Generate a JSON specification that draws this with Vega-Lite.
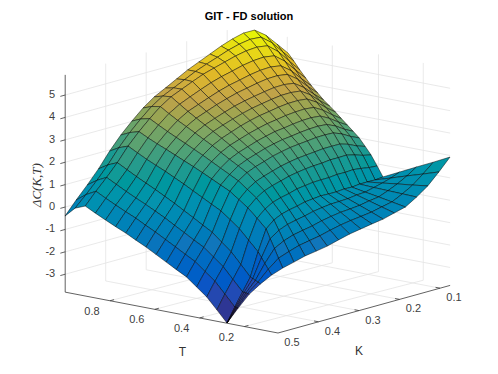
{"$schema":"https://vega.github.io/schema/vega-lite/v6.json","width":498,"height":344,"autosize":"none","padding":{"left":0,"right":0,"top":30,"bottom":0},"background":"white","config":{"view":{"stroke":null}},"title":{"text":"GIT - FD solution","anchor":"middle","fontSize":11,"font":"Liberation Sans","fontWeight":"bold","color":"#000000","offset":7},
"datasets":{"frame":[
{"T":1,"K":0.5,"C":-3,"T2":1,"K2":0.075,"C2":-3,"g":"g"},{"T":1,"K":0.5,"C":-2,"T2":1,"K2":0.075,"C2":-2,"g":"g"},{"T":1,"K":0.5,"C":-1,"T2":1,"K2":0.075,"C2":-1,"g":"g"},{"T":1,"K":0.5,"C":0,"T2":1,"K2":0.075,"C2":0,"g":"g"},{"T":1,"K":0.5,"C":1,"T2":1,"K2":0.075,"C2":1,"g":"g"},{"T":1,"K":0.5,"C":2,"T2":1,"K2":0.075,"C2":2,"g":"g"},{"T":1,"K":0.5,"C":3,"T2":1,"K2":0.075,"C2":3,"g":"g"},{"T":1,"K":0.5,"C":4,"T2":1,"K2":0.075,"C2":4,"g":"g"},{"T":1,"K":0.5,"C":5,"T2":1,"K2":0.075,"C2":5,"g":"g"},
{"T":1,"K":0.4,"C":-3.8,"T2":1,"K2":0.4,"C2":5.9,"g":"g"},{"T":1,"K":0.3,"C":-3.8,"T2":1,"K2":0.3,"C2":5.9,"g":"g"},{"T":1,"K":0.2,"C":-3.8,"T2":1,"K2":0.2,"C2":5.9,"g":"g"},{"T":1,"K":0.1,"C":-3.8,"T2":1,"K2":0.1,"C2":5.9,"g":"g"},
{"T":1,"K":0.075,"C":-3,"T2":0.05,"K2":0.075,"C2":-3,"g":"g"},{"T":1,"K":0.075,"C":-2,"T2":0.05,"K2":0.075,"C2":-2,"g":"g"},{"T":1,"K":0.075,"C":-1,"T2":0.05,"K2":0.075,"C2":-1,"g":"g"},{"T":1,"K":0.075,"C":0,"T2":0.05,"K2":0.075,"C2":0,"g":"g"},{"T":1,"K":0.075,"C":1,"T2":0.05,"K2":0.075,"C2":1,"g":"g"},{"T":1,"K":0.075,"C":2,"T2":0.05,"K2":0.075,"C2":2,"g":"g"},{"T":1,"K":0.075,"C":3,"T2":0.05,"K2":0.075,"C2":3,"g":"g"},{"T":1,"K":0.075,"C":4,"T2":0.05,"K2":0.075,"C2":4,"g":"g"},{"T":1,"K":0.075,"C":5,"T2":0.05,"K2":0.075,"C2":5,"g":"g"},
{"T":0.777,"K":0.075,"C":-3.8,"T2":0.777,"K2":0.075,"C2":5.9,"g":"g"},{"T":0.576,"K":0.075,"C":-3.8,"T2":0.576,"K2":0.075,"C2":5.9,"g":"g"},{"T":0.37,"K":0.075,"C":-3.8,"T2":0.37,"K2":0.075,"C2":5.9,"g":"g"},{"T":0.17,"K":0.075,"C":-3.8,"T2":0.17,"K2":0.075,"C2":5.9,"g":"g"},
{"T":0.8,"K":0.5,"C":-3.8,"T2":0.777,"K2":0.075,"C2":-3.8,"g":"g"},{"T":0.6,"K":0.5,"C":-3.8,"T2":0.576,"K2":0.075,"C2":-3.8,"g":"g"},{"T":0.4,"K":0.5,"C":-3.8,"T2":0.37,"K2":0.075,"C2":-3.8,"g":"g"},{"T":0.2,"K":0.5,"C":-3.8,"T2":0.17,"K2":0.075,"C2":-3.8,"g":"g"},
{"T":1,"K":0.4,"C":-3.8,"T2":0.05,"K2":0.4,"C2":-3.8,"g":"g"},{"T":1,"K":0.3,"C":-3.8,"T2":0.05,"K2":0.3,"C2":-3.8,"g":"g"},{"T":1,"K":0.2,"C":-3.8,"T2":0.05,"K2":0.2,"C2":-3.8,"g":"g"},{"T":1,"K":0.1,"C":-3.8,"T2":0.05,"K2":0.1,"C2":-3.8,"g":"g"},
{"T":1,"K":0.5,"C":-3.8,"T2":1,"K2":0.5,"C2":5.9,"g":"a"},{"T":1,"K":0.5,"C":-3.8,"T2":0.05,"K2":0.5,"C2":-3.8,"g":"a"},{"T":0.05,"K":0.5,"C":-3.8,"T2":0.05,"K2":0.075,"C2":-3.8,"g":"a"},
{"T":1,"K":0.5,"C":-3,"T2":1,"K2":0.512,"C2":-3,"g":"a"},{"T":1,"K":0.5,"C":-2,"T2":1,"K2":0.512,"C2":-2,"g":"a"},{"T":1,"K":0.5,"C":-1,"T2":1,"K2":0.512,"C2":-1,"g":"a"},{"T":1,"K":0.5,"C":0,"T2":1,"K2":0.512,"C2":0,"g":"a"},{"T":1,"K":0.5,"C":1,"T2":1,"K2":0.512,"C2":1,"g":"a"},{"T":1,"K":0.5,"C":2,"T2":1,"K2":0.512,"C2":2,"g":"a"},{"T":1,"K":0.5,"C":3,"T2":1,"K2":0.512,"C2":3,"g":"a"},{"T":1,"K":0.5,"C":4,"T2":1,"K2":0.512,"C2":4,"g":"a"},{"T":1,"K":0.5,"C":5,"T2":1,"K2":0.512,"C2":5,"g":"a"},
{"T":0.8,"K":0.5,"C":-3.8,"T2":0.8,"K2":0.49,"C2":-3.8,"g":"a"},{"T":0.6,"K":0.5,"C":-3.8,"T2":0.6,"K2":0.49,"C2":-3.8,"g":"a"},{"T":0.4,"K":0.5,"C":-3.8,"T2":0.4,"K2":0.49,"C2":-3.8,"g":"a"},{"T":0.2,"K":0.5,"C":-3.8,"T2":0.2,"K2":0.49,"C2":-3.8,"g":"a"},
{"T":0.05,"K":0.4,"C":-3.8,"T2":0.07,"K2":0.4,"C2":-3.8,"g":"a"},{"T":0.05,"K":0.3,"C":-3.8,"T2":0.07,"K2":0.3,"C2":-3.8,"g":"a"},{"T":0.05,"K":0.2,"C":-3.8,"T2":0.07,"K2":0.2,"C2":-3.8,"g":"a"},{"T":0.05,"K":0.1,"C":-3.8,"T2":0.07,"K2":0.1,"C2":-3.8,"g":"a"}],
"labels":[
{"s":"0.8","T":0.8,"K":0.5,"C":-3.8,"g":"T"},{"s":"0.6","T":0.6,"K":0.5,"C":-3.8,"g":"T"},{"s":"0.4","T":0.4,"K":0.5,"C":-3.8,"g":"T"},{"s":"0.2","T":0.2,"K":0.5,"C":-3.8,"g":"T"},
{"s":"0.5","T":0.05,"K":0.5,"C":-3.8,"g":"K"},{"s":"0.4","T":0.05,"K":0.4,"C":-3.8,"g":"K"},{"s":"0.3","T":0.05,"K":0.3,"C":-3.8,"g":"K"},{"s":"0.2","T":0.05,"K":0.2,"C":-3.8,"g":"K"},{"s":"0.1","T":0.05,"K":0.1,"C":-3.8,"g":"K"},
{"s":"-3","T":1,"K":0.5,"C":-3,"g":"z"},{"s":"-2","T":1,"K":0.5,"C":-2,"g":"z"},{"s":"-1","T":1,"K":0.5,"C":-1,"g":"z"},{"s":"0","T":1,"K":0.5,"C":0,"g":"z"},{"s":"1","T":1,"K":0.5,"C":1,"g":"z"},{"s":"2","T":1,"K":0.5,"C":2,"g":"z"},{"s":"3","T":1,"K":0.5,"C":3,"g":"z"},{"s":"4","T":1,"K":0.5,"C":4,"g":"z"},{"s":"5","T":1,"K":0.5,"C":5,"g":"z"},
{"s":"T","T":0.45,"K":0.5,"C":-3.8,"g":"tT"},{"s":"K","T":0.05,"K":0.3,"C":-3.8,"g":"tK"},{"s":"ΔC(K,T)","T":1,"K":0.569,"C":1.32,"g":"tz"}],
"grid":[
{"id":20,"T":1,"K":0.08,"C":4.77},{"id":19,"T":1,"K":0.101,"C":5.28},{"id":18,"T":1,"K":0.122,"C":5.78},{"id":17,"T":1,"K":0.143,"C":6.11},{"id":16,"T":1,"K":0.164,"C":6.08},{"id":15,"T":1,"K":0.185,"C":5.92},{"id":14,"T":1,"K":0.206,"C":5.71},{"id":13,"T":1,"K":0.227,"C":5.46},{"id":12,"T":1,"K":0.248,"C":5.21},{"id":11,"T":1,"K":0.269,"C":4.96},{"id":10,"T":1,"K":0.29,"C":4.66},{"id":9,"T":1,"K":0.311,"C":4.36},{"id":8,"T":1,"K":0.332,"C":4.07},{"id":7,"T":1,"K":0.353,"C":3.68},{"id":6,"T":1,"K":0.374,"C":3.2},{"id":5,"T":1,"K":0.395,"C":2.68},{"id":4,"T":1,"K":0.416,"C":2.07},{"id":3,"T":1,"K":0.437,"C":1.38},{"id":2,"T":1,"K":0.458,"C":0.77},{"id":1,"T":1,"K":0.479,"C":0.2},{"id":0,"T":1,"K":0.5,"C":-0.41},
{"id":120,"T":0.974,"K":0.08,"C":4.46},{"id":119,"T":0.973,"K":0.101,"C":4.97},{"id":118,"T":0.972,"K":0.122,"C":5.49},{"id":117,"T":0.971,"K":0.143,"C":5.85},{"id":116,"T":0.97,"K":0.164,"C":5.86},{"id":115,"T":0.969,"K":0.185,"C":5.75},{"id":114,"T":0.968,"K":0.206,"C":5.59},{"id":113,"T":0.967,"K":0.227,"C":5.38},{"id":112,"T":0.966,"K":0.248,"C":5.18},{"id":111,"T":0.965,"K":0.269,"C":4.96},{"id":110,"T":0.964,"K":0.29,"C":4.7},{"id":109,"T":0.963,"K":0.311,"C":4.44},{"id":108,"T":0.962,"K":0.332,"C":4.18},{"id":107,"T":0.962,"K":0.353,"C":3.82},{"id":106,"T":0.961,"K":0.374,"C":3.37},{"id":105,"T":0.96,"K":0.395,"C":2.87},{"id":104,"T":0.959,"K":0.416,"C":2.3},{"id":103,"T":0.958,"K":0.437,"C":1.64},{"id":102,"T":0.957,"K":0.458,"C":1.06},{"id":101,"T":0.956,"K":0.479,"C":0.53},{"id":100,"T":0.955,"K":0.5,"C":0.03},
{"id":220,"T":0.947,"K":0.08,"C":4.11},{"id":219,"T":0.945,"K":0.101,"C":4.62},{"id":218,"T":0.944,"K":0.122,"C":5.15},{"id":217,"T":0.942,"K":0.143,"C":5.52},{"id":216,"T":0.94,"K":0.164,"C":5.57},{"id":215,"T":0.938,"K":0.185,"C":5.51},{"id":214,"T":0.936,"K":0.206,"C":5.39},{"id":213,"T":0.934,"K":0.227,"C":5.23},{"id":212,"T":0.932,"K":0.248,"C":5.07},{"id":211,"T":0.931,"K":0.269,"C":4.9},{"id":210,"T":0.929,"K":0.29,"C":4.68},{"id":209,"T":0.927,"K":0.311,"C":4.45},{"id":208,"T":0.925,"K":0.332,"C":4.22},{"id":207,"T":0.923,"K":0.353,"C":3.89},{"id":206,"T":0.921,"K":0.374,"C":3.46},{"id":205,"T":0.919,"K":0.395,"C":2.99},{"id":204,"T":0.918,"K":0.416,"C":2.45},{"id":203,"T":0.916,"K":0.437,"C":1.82},{"id":202,"T":0.914,"K":0.458,"C":1.27},{"id":201,"T":0.912,"K":0.479,"C":0.76},{"id":200,"T":0.91,"K":0.5,"C":0.21},
{"id":320,"T":0.921,"K":0.08,"C":3.8},{"id":319,"T":0.918,"K":0.101,"C":4.28},{"id":318,"T":0.915,"K":0.122,"C":4.78},{"id":317,"T":0.912,"K":0.143,"C":5.13},{"id":316,"T":0.91,"K":0.164,"C":5.18},{"id":315,"T":0.907,"K":0.185,"C":5.13},{"id":314,"T":0.904,"K":0.206,"C":5.03},{"id":313,"T":0.901,"K":0.227,"C":4.89},{"id":312,"T":0.899,"K":0.248,"C":4.75},{"id":311,"T":0.896,"K":0.269,"C":4.59},{"id":310,"T":0.893,"K":0.29,"C":4.39},{"id":309,"T":0.89,"K":0.311,"C":4.18},{"id":308,"T":0.887,"K":0.332,"C":3.96},{"id":307,"T":0.885,"K":0.353,"C":3.65},{"id":306,"T":0.882,"K":0.374,"C":3.25},{"id":305,"T":0.879,"K":0.395,"C":2.79},{"id":304,"T":0.876,"K":0.416,"C":2.23},{"id":303,"T":0.873,"K":0.437,"C":1.59},{"id":302,"T":0.871,"K":0.458,"C":1.04},{"id":301,"T":0.868,"K":0.479,"C":0.53},{"id":300,"T":0.865,"K":0.5,"C":-0.02},
{"id":420,"T":0.895,"K":0.08,"C":3.5},{"id":419,"T":0.891,"K":0.101,"C":3.94},{"id":418,"T":0.887,"K":0.122,"C":4.41},{"id":417,"T":0.883,"K":0.143,"C":4.74},{"id":416,"T":0.879,"K":0.164,"C":4.8},{"id":415,"T":0.876,"K":0.185,"C":4.76},{"id":414,"T":0.872,"K":0.206,"C":4.67},{"id":413,"T":0.868,"K":0.227,"C":4.55},{"id":412,"T":0.865,"K":0.248,"C":4.43},{"id":411,"T":0.861,"K":0.269,"C":4.28},{"id":410,"T":0.857,"K":0.29,"C":4.1},{"id":409,"T":0.853,"K":0.311,"C":3.91},{"id":408,"T":0.85,"K":0.332,"C":3.71},{"id":407,"T":0.846,"K":0.353,"C":3.42},{"id":406,"T":0.842,"K":0.374,"C":3.04},{"id":405,"T":0.838,"K":0.395,"C":2.6},{"id":404,"T":0.835,"K":0.416,"C":2.02},{"id":403,"T":0.831,"K":0.437,"C":1.36},{"id":402,"T":0.827,"K":0.458,"C":0.81},{"id":401,"T":0.824,"K":0.479,"C":0.31},{"id":400,"T":0.82,"K":0.5,"C":-0.24},
{"id":520,"T":0.868,"K":0.08,"C":3.24},{"id":519,"T":0.863,"K":0.101,"C":3.65},{"id":518,"T":0.859,"K":0.122,"C":4.09},{"id":517,"T":0.854,"K":0.143,"C":4.41},{"id":516,"T":0.849,"K":0.164,"C":4.47},{"id":515,"T":0.845,"K":0.185,"C":4.44},{"id":514,"T":0.84,"K":0.206,"C":4.36},{"id":513,"T":0.836,"K":0.227,"C":4.25},{"id":512,"T":0.831,"K":0.248,"C":4.15},{"id":511,"T":0.826,"K":0.269,"C":4.01},{"id":510,"T":0.822,"K":0.29,"C":3.85},{"id":509,"T":0.817,"K":0.311,"C":3.67},{"id":508,"T":0.813,"K":0.332,"C":3.48},{"id":507,"T":0.808,"K":0.353,"C":3.22},{"id":506,"T":0.803,"K":0.374,"C":2.85},{"id":505,"T":0.798,"K":0.395,"C":2.43},{"id":504,"T":0.794,"K":0.416,"C":1.83},{"id":503,"T":0.789,"K":0.437,"C":1.15},{"id":502,"T":0.784,"K":0.458,"C":0.6},{"id":501,"T":0.78,"K":0.479,"C":0.1},{"id":500,"T":0.775,"K":0.5,"C":-0.45},
{"id":620,"T":0.842,"K":0.08,"C":2.98},{"id":619,"T":0.836,"K":0.101,"C":3.36},{"id":618,"T":0.831,"K":0.122,"C":3.77},{"id":617,"T":0.825,"K":0.143,"C":4.07},{"id":616,"T":0.819,"K":0.164,"C":4.13},{"id":615,"T":0.814,"K":0.185,"C":4.11},{"id":614,"T":0.808,"K":0.206,"C":4.04},{"id":613,"T":0.803,"K":0.227,"C":3.95},{"id":612,"T":0.797,"K":0.248,"C":3.86},{"id":611,"T":0.792,"K":0.269,"C":3.74},{"id":610,"T":0.786,"K":0.29,"C":3.59},{"id":609,"T":0.78,"K":0.311,"C":3.43},{"id":608,"T":0.775,"K":0.332,"C":3.25},{"id":607,"T":0.769,"K":0.353,"C":3.01},{"id":606,"T":0.763,"K":0.374,"C":2.66},{"id":605,"T":0.758,"K":0.395,"C":2.25},{"id":604,"T":0.752,"K":0.416,"C":1.64},{"id":603,"T":0.747,"K":0.437,"C":0.94},{"id":602,"T":0.741,"K":0.458,"C":0.4},{"id":601,"T":0.735,"K":0.479,"C":-0.1},{"id":600,"T":0.73,"K":0.5,"C":-0.65},
{"id":720,"T":0.815,"K":0.08,"C":2.76},{"id":719,"T":0.809,"K":0.101,"C":3.11},{"id":718,"T":0.803,"K":0.122,"C":3.5},{"id":717,"T":0.796,"K":0.143,"C":3.78},{"id":716,"T":0.789,"K":0.164,"C":3.83},{"id":715,"T":0.783,"K":0.185,"C":3.82},{"id":714,"T":0.776,"K":0.206,"C":3.76},{"id":713,"T":0.77,"K":0.227,"C":3.68},{"id":712,"T":0.763,"K":0.248,"C":3.6},{"id":711,"T":0.756,"K":0.269,"C":3.49},{"id":710,"T":0.75,"K":0.29,"C":3.35},{"id":709,"T":0.744,"K":0.311,"C":3.2},{"id":708,"T":0.738,"K":0.332,"C":3.03},{"id":707,"T":0.731,"K":0.353,"C":2.8},{"id":706,"T":0.724,"K":0.374,"C":2.47},{"id":705,"T":0.718,"K":0.395,"C":2.07},{"id":704,"T":0.712,"K":0.416,"C":1.44},{"id":703,"T":0.705,"K":0.437,"C":0.72},{"id":702,"T":0.698,"K":0.458,"C":0.18},{"id":701,"T":0.692,"K":0.479,"C":-0.33},{"id":700,"T":0.685,"K":0.5,"C":-0.88},
{"id":820,"T":0.789,"K":0.08,"C":2.54},{"id":819,"T":0.782,"K":0.101,"C":2.86},{"id":818,"T":0.774,"K":0.122,"C":3.22},{"id":817,"T":0.767,"K":0.143,"C":3.48},{"id":816,"T":0.759,"K":0.164,"C":3.53},{"id":815,"T":0.752,"K":0.185,"C":3.52},{"id":814,"T":0.745,"K":0.206,"C":3.47},{"id":813,"T":0.737,"K":0.227,"C":3.4},{"id":812,"T":0.73,"K":0.248,"C":3.33},{"id":811,"T":0.723,"K":0.269,"C":3.23},{"id":810,"T":0.715,"K":0.29,"C":3.11},{"id":809,"T":0.707,"K":0.311,"C":2.96},{"id":808,"T":0.7,"K":0.332,"C":2.8},{"id":807,"T":0.692,"K":0.353,"C":2.59},{"id":806,"T":0.685,"K":0.374,"C":2.28},{"id":805,"T":0.677,"K":0.395,"C":1.89},{"id":804,"T":0.67,"K":0.416,"C":1.23},{"id":803,"T":0.662,"K":0.437,"C":0.49},{"id":802,"T":0.655,"K":0.458,"C":-0.04},{"id":801,"T":0.648,"K":0.479,"C":-0.55},{"id":800,"T":0.64,"K":0.5,"C":-1.1},
{"id":920,"T":0.763,"K":0.08,"C":2.3},{"id":919,"T":0.754,"K":0.101,"C":2.59},{"id":918,"T":0.746,"K":0.122,"C":2.92},{"id":917,"T":0.737,"K":0.143,"C":3.16},{"id":916,"T":0.729,"K":0.164,"C":3.21},{"id":915,"T":0.72,"K":0.185,"C":3.2},{"id":914,"T":0.713,"K":0.206,"C":3.16},{"id":913,"T":0.704,"K":0.227,"C":3.1},{"id":912,"T":0.696,"K":0.248,"C":3.04},{"id":911,"T":0.687,"K":0.269,"C":2.95},{"id":910,"T":0.679,"K":0.29,"C":2.84},{"id":909,"T":0.671,"K":0.311,"C":2.7},{"id":908,"T":0.663,"K":0.332,"C":2.56},{"id":907,"T":0.654,"K":0.353,"C":2.36},{"id":906,"T":0.646,"K":0.374,"C":2.07},{"id":905,"T":0.637,"K":0.395,"C":1.7},{"id":904,"T":0.629,"K":0.416,"C":1.01},{"id":903,"T":0.62,"K":0.437,"C":0.25},{"id":902,"T":0.612,"K":0.458,"C":-0.29},{"id":901,"T":0.603,"K":0.479,"C":-0.8},{"id":900,"T":0.595,"K":0.5,"C":-1.35},
{"id":1020,"T":0.736,"K":0.08,"C":2.06},{"id":1019,"T":0.727,"K":0.101,"C":2.32},{"id":1018,"T":0.718,"K":0.122,"C":2.61},{"id":1017,"T":0.708,"K":0.143,"C":2.83},{"id":1016,"T":0.699,"K":0.164,"C":2.88},{"id":1015,"T":0.689,"K":0.185,"C":2.88},{"id":1014,"T":0.681,"K":0.206,"C":2.84},{"id":1013,"T":0.671,"K":0.227,"C":2.79},{"id":1012,"T":0.662,"K":0.248,"C":2.75},{"id":1011,"T":0.652,"K":0.269,"C":2.67},{"id":1010,"T":0.643,"K":0.29,"C":2.57},{"id":1009,"T":0.634,"K":0.311,"C":2.44},{"id":1008,"T":0.625,"K":0.332,"C":2.31},{"id":1007,"T":0.616,"K":0.353,"C":2.13},{"id":1006,"T":0.606,"K":0.374,"C":1.86},{"id":1005,"T":0.596,"K":0.395,"C":1.5},{"id":1004,"T":0.588,"K":0.416,"C":0.79},{"id":1003,"T":0.578,"K":0.437,"C":0.01},{"id":1002,"T":0.569,"K":0.458,"C":-0.53},{"id":1001,"T":0.559,"K":0.479,"C":-1.04},{"id":1000,"T":0.55,"K":0.5,"C":-1.6},
{"id":1120,"T":0.71,"K":0.08,"C":1.83},{"id":1119,"T":0.7,"K":0.101,"C":2.05},{"id":1118,"T":0.69,"K":0.122,"C":2.32},{"id":1117,"T":0.679,"K":0.143,"C":2.51},{"id":1116,"T":0.669,"K":0.164,"C":2.56},{"id":1115,"T":0.658,"K":0.185,"C":2.56},{"id":1114,"T":0.649,"K":0.206,"C":2.53},{"id":1113,"T":0.638,"K":0.227,"C":2.49},{"id":1112,"T":0.628,"K":0.248,"C":2.46},{"id":1111,"T":0.618,"K":0.269,"C":2.39},{"id":1110,"T":0.607,"K":0.29,"C":2.31},{"id":1109,"T":0.597,"K":0.311,"C":2.19},{"id":1108,"T":0.587,"K":0.332,"C":2.07},{"id":1107,"T":0.577,"K":0.353,"C":1.91},{"id":1106,"T":0.566,"K":0.374,"C":1.65},{"id":1105,"T":0.556,"K":0.395,"C":1.3},{"id":1104,"T":0.547,"K":0.416,"C":0.57},{"id":1103,"T":0.536,"K":0.437,"C":-0.24},{"id":1102,"T":0.526,"K":0.458,"C":-0.78},{"id":1101,"T":0.515,"K":0.479,"C":-1.29},{"id":1100,"T":0.505,"K":0.5,"C":-1.85},
{"id":1220,"T":0.684,"K":0.08,"C":1.59},{"id":1219,"T":0.673,"K":0.101,"C":1.78},{"id":1218,"T":0.662,"K":0.122,"C":2.02},{"id":1217,"T":0.65,"K":0.143,"C":2.19},{"id":1216,"T":0.638,"K":0.164,"C":2.23},{"id":1215,"T":0.627,"K":0.185,"C":2.24},{"id":1214,"T":0.617,"K":0.206,"C":2.21},{"id":1213,"T":0.606,"K":0.227,"C":2.19},{"id":1212,"T":0.594,"K":0.248,"C":2.17},{"id":1211,"T":0.583,"K":0.269,"C":2.11},{"id":1210,"T":0.572,"K":0.29,"C":2.04},{"id":1209,"T":0.56,"K":0.311,"C":1.93},{"id":1208,"T":0.55,"K":0.332,"C":1.82},{"id":1207,"T":0.538,"K":0.353,"C":1.68},{"id":1206,"T":0.527,"K":0.374,"C":1.44},{"id":1205,"T":0.515,"K":0.395,"C":1.1},{"id":1204,"T":0.505,"K":0.416,"C":0.35},{"id":1203,"T":0.494,"K":0.437,"C":-0.48},{"id":1202,"T":0.482,"K":0.458,"C":-1.02},{"id":1201,"T":0.471,"K":0.479,"C":-1.53},{"id":1200,"T":0.46,"K":0.5,"C":-2.09},
{"id":1320,"T":0.657,"K":0.08,"C":1.26},{"id":1319,"T":0.645,"K":0.101,"C":1.41},{"id":1318,"T":0.634,"K":0.122,"C":1.61},{"id":1317,"T":0.621,"K":0.143,"C":1.75},{"id":1316,"T":0.608,"K":0.164,"C":1.78},{"id":1315,"T":0.596,"K":0.185,"C":1.8},{"id":1314,"T":0.585,"K":0.206,"C":1.78},{"id":1313,"T":0.573,"K":0.227,"C":1.77},{"id":1312,"T":0.56,"K":0.248,"C":1.76},{"id":1311,"T":0.548,"K":0.269,"C":1.72},{"id":1310,"T":0.536,"K":0.29,"C":1.66},{"id":1309,"T":0.524,"K":0.311,"C":1.57},{"id":1308,"T":0.512,"K":0.332,"C":1.47},{"id":1307,"T":0.5,"K":0.353,"C":1.35},{"id":1306,"T":0.487,"K":0.374,"C":1.14},{"id":1305,"T":0.475,"K":0.395,"C":0.81},{"id":1304,"T":0.464,"K":0.416,"C":0.03},{"id":1303,"T":0.452,"K":0.437,"C":-0.84},{"id":1302,"T":0.439,"K":0.458,"C":-1.37},{"id":1301,"T":0.427,"K":0.479,"C":-1.89},{"id":1300,"T":0.415,"K":0.5,"C":-2.45},
{"id":1420,"T":0.631,"K":0.08,"C":0.93},{"id":1419,"T":0.618,"K":0.101,"C":1.04},{"id":1418,"T":0.605,"K":0.122,"C":1.19},{"id":1417,"T":0.592,"K":0.143,"C":1.31},{"id":1416,"T":0.578,"K":0.164,"C":1.33},{"id":1415,"T":0.565,"K":0.185,"C":1.36},{"id":1414,"T":0.553,"K":0.206,"C":1.34},{"id":1413,"T":0.54,"K":0.227,"C":1.35},{"id":1412,"T":0.526,"K":0.248,"C":1.35},{"id":1411,"T":0.513,"K":0.269,"C":1.32},{"id":1410,"T":0.5,"K":0.29,"C":1.28},{"id":1409,"T":0.487,"K":0.311,"C":1.2},{"id":1408,"T":0.475,"K":0.332,"C":1.12},{"id":1407,"T":0.461,"K":0.353,"C":1.02},{"id":1406,"T":0.447,"K":0.374,"C":0.83},{"id":1405,"T":0.435,"K":0.395,"C":0.52},{"id":1404,"T":0.423,"K":0.416,"C":-0.29},{"id":1403,"T":0.41,"K":0.437,"C":-1.19},{"id":1402,"T":0.396,"K":0.458,"C":-1.72},{"id":1401,"T":0.383,"K":0.479,"C":-2.24},{"id":1400,"T":0.37,"K":0.5,"C":-2.81},
{"id":1520,"T":0.604,"K":0.08,"C":0.49},{"id":1519,"T":0.59,"K":0.101,"C":0.55},{"id":1518,"T":0.577,"K":0.122,"C":0.64},{"id":1517,"T":0.562,"K":0.143,"C":0.72},{"id":1516,"T":0.548,"K":0.164,"C":0.73},{"id":1515,"T":0.534,"K":0.185,"C":0.77},{"id":1514,"T":0.521,"K":0.206,"C":0.76},{"id":1513,"T":0.507,"K":0.227,"C":0.79},{"id":1512,"T":0.493,"K":0.248,"C":0.81},{"id":1511,"T":0.478,"K":0.269,"C":0.8},{"id":1510,"T":0.465,"K":0.29,"C":0.78},{"id":1509,"T":0.45,"K":0.311,"C":0.71},{"id":1508,"T":0.438,"K":0.332,"C":0.65},{"id":1507,"T":0.423,"K":0.353,"C":0.58},{"id":1506,"T":0.408,"K":0.374,"C":0.42},{"id":1505,"T":0.394,"K":0.395,"C":0.13},{"id":1504,"T":0.382,"K":0.416,"C":-0.72},{"id":1503,"T":0.367,"K":0.437,"C":-1.67},{"id":1502,"T":0.353,"K":0.458,"C":-2.2},{"id":1501,"T":0.339,"K":0.479,"C":-2.73},{"id":1500,"T":0.325,"K":0.5,"C":-3.3},
{"id":1620,"T":0.578,"K":0.08,"C":0.05},{"id":1619,"T":0.563,"K":0.101,"C":0.05},{"id":1618,"T":0.549,"K":0.122,"C":0.09},{"id":1617,"T":0.533,"K":0.143,"C":0.13},{"id":1616,"T":0.518,"K":0.164,"C":0.13},{"id":1615,"T":0.503,"K":0.185,"C":0.18},{"id":1614,"T":0.489,"K":0.206,"C":0.18},{"id":1613,"T":0.474,"K":0.227,"C":0.22},{"id":1612,"T":0.459,"K":0.248,"C":0.27},{"id":1611,"T":0.444,"K":0.269,"C":0.27},{"id":1610,"T":0.429,"K":0.29,"C":0.27},{"id":1609,"T":0.414,"K":0.311,"C":0.22},{"id":1608,"T":0.4,"K":0.332,"C":0.18},{"id":1607,"T":0.384,"K":0.353,"C":0.13},{"id":1606,"T":0.369,"K":0.374,"C":0},{"id":1605,"T":0.354,"K":0.395,"C":-0.27},{"id":1604,"T":0.34,"K":0.416,"C":-1.16},{"id":1603,"T":0.325,"K":0.437,"C":-2.15},{"id":1602,"T":0.31,"K":0.458,"C":-2.68},{"id":1601,"T":0.295,"K":0.479,"C":-3.22},{"id":1600,"T":0.28,"K":0.5,"C":-3.8},
{"id":1720,"T":0.504,"K":0.08,"C":0.41},{"id":1719,"T":0.493,"K":0.101,"C":0.27},{"id":1718,"T":0.482,"K":0.122,"C":0.17},{"id":1717,"T":0.47,"K":0.143,"C":0.1},{"id":1716,"T":0.459,"K":0.164,"C":0.02},{"id":1715,"T":0.447,"K":0.185,"C":0.02},{"id":1714,"T":0.437,"K":0.206,"C":-0.02},{"id":1713,"T":0.426,"K":0.227,"C":-0.02},{"id":1712,"T":0.414,"K":0.248,"C":-0.01},{"id":1711,"T":0.403,"K":0.269,"C":-0.04},{"id":1710,"T":0.392,"K":0.29,"C":-0.08},{"id":1709,"T":0.381,"K":0.311,"C":-0.16},{"id":1708,"T":0.37,"K":0.332,"C":-0.22},{"id":1707,"T":0.358,"K":0.353,"C":-0.28},{"id":1706,"T":0.347,"K":0.374,"C":-0.42},{"id":1705,"T":0.336,"K":0.395,"C":-0.67},{"id":1704,"T":0.325,"K":0.416,"C":-1.39},{"id":1703,"T":0.314,"K":0.437,"C":-2.2},{"id":1702,"T":0.303,"K":0.458,"C":-2.69},{"id":1701,"T":0.291,"K":0.479,"C":-3.22},{"id":1700,"T":0.28,"K":0.5,"C":-3.8},
{"id":1820,"T":0.429,"K":0.08,"C":0.78},{"id":1819,"T":0.422,"K":0.101,"C":0.5},{"id":1818,"T":0.415,"K":0.122,"C":0.26},{"id":1817,"T":0.407,"K":0.143,"C":0.08},{"id":1816,"T":0.399,"K":0.164,"C":-0.08},{"id":1815,"T":0.392,"K":0.185,"C":-0.14},{"id":1814,"T":0.385,"K":0.206,"C":-0.22},{"id":1813,"T":0.377,"K":0.227,"C":-0.26},{"id":1812,"T":0.37,"K":0.248,"C":-0.29},{"id":1811,"T":0.362,"K":0.269,"C":-0.35},{"id":1810,"T":0.355,"K":0.29,"C":-0.43},{"id":1809,"T":0.347,"K":0.311,"C":-0.54},{"id":1808,"T":0.34,"K":0.332,"C":-0.62},{"id":1807,"T":0.332,"K":0.353,"C":-0.7},{"id":1806,"T":0.325,"K":0.374,"C":-0.85},{"id":1805,"T":0.317,"K":0.395,"C":-1.07},{"id":1804,"T":0.31,"K":0.416,"C":-1.62},{"id":1803,"T":0.303,"K":0.437,"C":-2.26},{"id":1802,"T":0.295,"K":0.458,"C":-2.7},{"id":1801,"T":0.288,"K":0.479,"C":-3.23},{"id":1800,"T":0.28,"K":0.5,"C":-3.8},
{"id":1920,"T":0.354,"K":0.08,"C":1.14},{"id":1919,"T":0.351,"K":0.101,"C":0.72},{"id":1918,"T":0.347,"K":0.122,"C":0.34},{"id":1917,"T":0.343,"K":0.143,"C":0.06},{"id":1916,"T":0.34,"K":0.164,"C":-0.19},{"id":1915,"T":0.336,"K":0.185,"C":-0.3},{"id":1914,"T":0.332,"K":0.206,"C":-0.42},{"id":1913,"T":0.329,"K":0.227,"C":-0.5},{"id":1912,"T":0.325,"K":0.248,"C":-0.57},{"id":1911,"T":0.321,"K":0.269,"C":-0.66},{"id":1910,"T":0.317,"K":0.29,"C":-0.78},{"id":1909,"T":0.314,"K":0.311,"C":-0.92},{"id":1908,"T":0.31,"K":0.332,"C":-1.02},{"id":1907,"T":0.306,"K":0.353,"C":-1.12},{"id":1906,"T":0.302,"K":0.374,"C":-1.28},{"id":1905,"T":0.299,"K":0.395,"C":-1.47},{"id":1904,"T":0.295,"K":0.416,"C":-1.85},{"id":1903,"T":0.291,"K":0.437,"C":-2.31},{"id":1902,"T":0.288,"K":0.458,"C":-2.71},{"id":1901,"T":0.284,"K":0.479,"C":-3.24},{"id":1900,"T":0.28,"K":0.5,"C":-3.8},
{"id":2020,"T":0.28,"K":0.08,"C":1.51},{"id":2019,"T":0.28,"K":0.101,"C":0.95},{"id":2018,"T":0.28,"K":0.122,"C":0.43},{"id":2017,"T":0.28,"K":0.143,"C":0.04},{"id":2016,"T":0.28,"K":0.164,"C":-0.3},{"id":2015,"T":0.28,"K":0.185,"C":-0.46},{"id":2014,"T":0.28,"K":0.206,"C":-0.63},{"id":2013,"T":0.28,"K":0.227,"C":-0.74},{"id":2012,"T":0.28,"K":0.248,"C":-0.86},{"id":2011,"T":0.28,"K":0.269,"C":-0.98},{"id":2010,"T":0.28,"K":0.29,"C":-1.14},{"id":2009,"T":0.28,"K":0.311,"C":-1.31},{"id":2008,"T":0.28,"K":0.332,"C":-1.43},{"id":2007,"T":0.28,"K":0.353,"C":-1.54},{"id":2006,"T":0.28,"K":0.374,"C":-1.71},{"id":2005,"T":0.28,"K":0.395,"C":-1.87},{"id":2004,"T":0.28,"K":0.416,"C":-2.08},{"id":2003,"T":0.28,"K":0.437,"C":-2.37},{"id":2002,"T":0.28,"K":0.458,"C":-2.72},{"id":2001,"T":0.28,"K":0.479,"C":-3.24},{"id":2000,"T":0.28,"K":0.5,"C":-3.8}]},
"data":{"name":"labels"},
"encoding":{"x":{"field":"px","type":"quantitative","scale":{"domain":[0,498],"nice":false,"zero":false},"axis":null},"y":{"field":"py","type":"quantitative","scale":{"domain":[374,30],"nice":false,"zero":false},"axis":null}},
"layer":[
{"data":{"name":"frame"},"transform":[{"calculate":"278-224*(datum.T-0.05)+405*(0.5-datum.K)","as":"px"},{"calculate":"333-43*(datum.T-0.05)-112*(0.5-datum.K)-22.4*(datum.C+3.8)","as":"py"},{"calculate":"278-224*(datum.T2-0.05)+405*(0.5-datum.K2)","as":"qx"},{"calculate":"333-43*(datum.T2-0.05)-112*(0.5-datum.K2)-22.4*(datum.C2+3.8)","as":"qy"}],"mark":{"type":"rule","strokeWidth":0.8},"encoding":{"x2":{"field":"qx"},"y2":{"field":"qy"},"color":{"field":"g","type":"nominal","scale":{"domain":["g","a"],"range":["#e3e3e3","#3a3a3a"]},"legend":null}}},
{"transform":[{"filter":"datum.g=='T'"},{"calculate":"278-224*(datum.T-0.05)+405*(0.5-datum.K)","as":"px"},{"calculate":"333-43*(datum.T-0.05)-112*(0.5-datum.K)-22.4*(datum.C+3.8)","as":"py"}],"mark":{"type":"text","font":"Liberation Sans","fontSize":11,"color":"#404040","dx":-18,"dy":11},"encoding":{"text":{"field":"s"}}},
{"transform":[{"filter":"datum.g=='K'"},{"calculate":"278-224*(datum.T-0.05)+405*(0.5-datum.K)","as":"px"},{"calculate":"333-43*(datum.T-0.05)-112*(0.5-datum.K)-22.4*(datum.C+3.8)","as":"py"}],"mark":{"type":"text","font":"Liberation Sans","fontSize":11,"color":"#404040","dx":14,"dy":10},"encoding":{"text":{"field":"s"}}},
{"transform":[{"filter":"datum.g=='z'"},{"calculate":"278-224*(datum.T-0.05)+405*(0.5-datum.K)","as":"px"},{"calculate":"333-43*(datum.T-0.05)-112*(0.5-datum.K)-22.4*(datum.C+3.8)","as":"py"}],"mark":{"type":"text","font":"Liberation Sans","fontSize":11,"color":"#404040","dx":-10,"align":"right"},"encoding":{"text":{"field":"s"}}},
{"transform":[{"filter":"datum.g=='tT'"},{"calculate":"278-224*(datum.T-0.05)+405*(0.5-datum.K)","as":"px"},{"calculate":"333-43*(datum.T-0.05)-112*(0.5-datum.K)-22.4*(datum.C+3.8)","as":"py"}],"mark":{"type":"text","font":"Liberation Sans","fontSize":12,"color":"#333333","dx":-6,"dy":36},"encoding":{"text":{"field":"s"}}},
{"transform":[{"filter":"datum.g=='tK'"},{"calculate":"278-224*(datum.T-0.05)+405*(0.5-datum.K)","as":"px"},{"calculate":"333-43*(datum.T-0.05)-112*(0.5-datum.K)-22.4*(datum.C+3.8)","as":"py"}],"mark":{"type":"text","font":"Liberation Sans","fontSize":12,"color":"#333333","dx":0,"dy":40},"encoding":{"text":{"field":"s"}}},
{"transform":[{"filter":"datum.g=='tz'"},{"calculate":"278-224*(datum.T-0.05)+405*(0.5-datum.K)","as":"px"},{"calculate":"333-43*(datum.T-0.05)-112*(0.5-datum.K)-22.4*(datum.C+3.8)","as":"py"}],"mark":{"type":"text","font":"Liberation Serif","fontStyle":"italic","fontSize":13,"color":"#333333","angle":270},"encoding":{"text":{"field":"s"}}},
{"data":{"name":"grid"},"transform":[{"filter":"datum.id<2000 && datum.id%100<20"},{"calculate":"[0,1,2,3,4]","as":"v"},{"flatten":["v"]},{"calculate":"(floor(datum.id/100)+((datum.v==1||datum.v==2)?1:0))*100+datum.id%100+((datum.v==2||datum.v==3)?1:0)","as":"nk"},{"lookup":"nk","from":{"data":{"name":"grid"},"key":"id","fields":["T","K","C"]},"as":["T2","K2","C2"]},{"calculate":"65+225*(1-datum.T2)+531*(0.5-datum.K2)","as":"px"},{"calculate":"292+43.06*(1-datum.T2)-111.9*(0.5-datum.K2)-22.4*(datum.C2+3.8)","as":"py"}],"mark":{"type":"line","filled":true,"stroke":"#000000","strokeWidth":0.6,"strokeOpacity":0.8,"interpolate":"linear"},"encoding":{"detail":{"field":"id","type":"nominal"},"order":{"field":"v","type":"quantitative"},"fill":{"field":"C","type":"quantitative","scale":{"domain":[-3.8,-2.4,-1,0.4,1.8,3,4,4.9,5.9],"range":["#2f2578","#0357c8","#1276bb","#0593ae","#319c86","#7ea562","#bfa24a","#e0b828","#e8ea0c"]},"legend":null}}}
]}
